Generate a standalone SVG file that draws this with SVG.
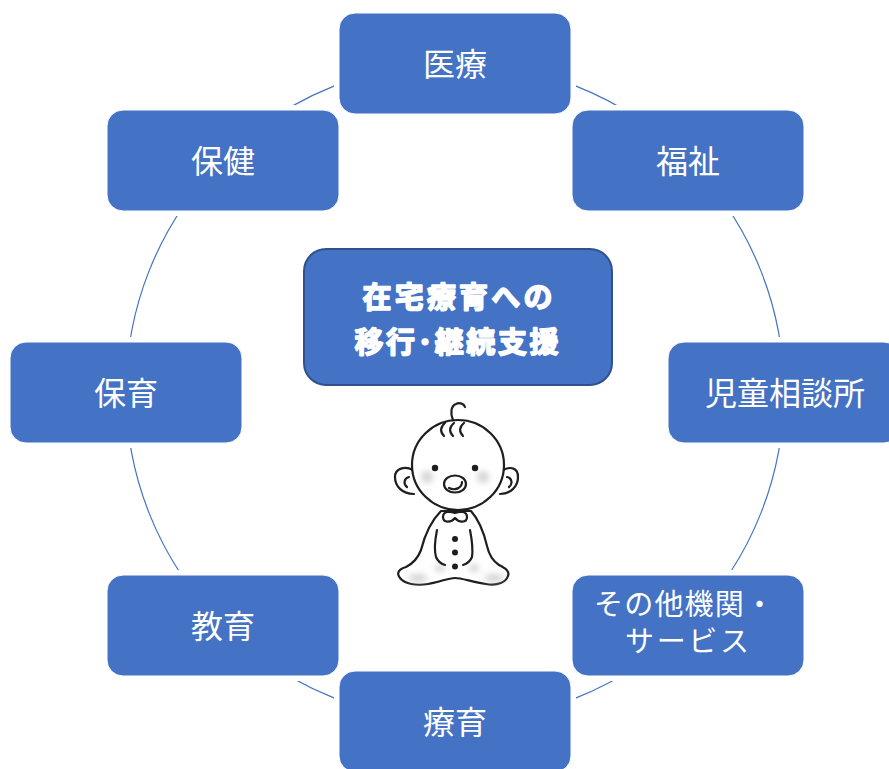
<svg xmlns="http://www.w3.org/2000/svg" width="889" height="769" viewBox="0 0 889 769">
  <style>
    .node rect { fill: #4472C4; stroke: #FFFFFF; stroke-width: 1; }
    .node text { fill: #FFFFFF; font-family: "Noto Sans CJK JP", "Noto Sans", sans-serif; font-size: 32px; text-anchor: middle; }
    .node text.small { font-size: 29px; }
    .hub rect { fill: #4472C4; stroke: #2F528F; stroke-width: 2; }
    .hub text { fill: #FFFFFF; stroke: #FFFFFF; stroke-width: 1.6; stroke-linejoin: round; font-family: "Noto Sans CJK JP", sans-serif; font-weight: 700; font-size: 29px; text-anchor: middle; }
    .ink { fill: none; stroke: #1E1E1E; stroke-width: 2.2; stroke-linecap: round; stroke-linejoin: round; }
    .fillw { fill: #FFFFFF; }
    .dot { fill: #1E1E1E; }
  </style>
  <defs>
    <!-- keeps a small gap between the ring and each box -->
    <mask id="ringGaps" maskUnits="userSpaceOnUse" x="0" y="0" width="889" height="769">
      <rect x="0" y="0" width="889" height="769" fill="#FFFFFF"/>
      <g fill="#000000" stroke="#000000" stroke-width="10">
        <rect x="339" y="13" width="232" height="101" rx="16"/>
        <rect x="572" y="110" width="232" height="101" rx="16"/>
        <rect x="668" y="342" width="232" height="101" rx="16"/>
        <rect x="572" y="575" width="232" height="101" rx="16"/>
        <rect x="339" y="671" width="232" height="101" rx="16"/>
        <rect x="107" y="575" width="232" height="101" rx="16"/>
        <rect x="10" y="342" width="232" height="101" rx="16"/>
        <rect x="107" y="110" width="232" height="101" rx="16"/>
      </g>
    </mask>
    <filter id="soft" x="-1" y="-1" width="3" height="3">
      <feGaussianBlur stdDeviation="3"/>
    </filter>
  </defs>

  <rect x="0" y="0" width="889" height="769" fill="#FFFFFF"/>

  <!-- cycle ring -->
  <g id="connectors">
    <circle cx="455" cy="392" r="329" fill="none" stroke="#4472C4" stroke-width="1.2" mask="url(#ringGaps)"/>
  </g>

  <g id="node-iryou" class="node">
    <rect x="339" y="13" width="232" height="101" rx="16"/>
    <text x="455" y="75.5">医療</text>
  </g>
  <g id="node-fukushi" class="node">
    <rect x="572" y="110" width="232" height="101" rx="16"/>
    <text x="688" y="172.5">福祉</text>
  </g>
  <g id="node-jidousoudanjo" class="node">
    <rect x="668" y="342" width="232" height="101" rx="16"/>
    <text x="785" y="404.5">児童相談所</text>
  </g>
  <g id="node-sonota" class="node">
    <rect x="572" y="575" width="232" height="101" rx="16"/>
    <text class="small" x="684" y="615" textLength="180" lengthAdjust="spacing">その他機関・</text>
    <text class="small" x="687" y="652" textLength="124" lengthAdjust="spacing">サービス</text>
  </g>
  <g id="node-ryouiku" class="node">
    <rect x="339" y="671" width="232" height="101" rx="16"/>
    <text x="455" y="733.5">療育</text>
  </g>
  <g id="node-kyouiku" class="node">
    <rect x="107" y="575" width="232" height="101" rx="16"/>
    <text x="223" y="637.5">教育</text>
  </g>
  <g id="node-hoiku" class="node">
    <rect x="10" y="342" width="232" height="101" rx="16"/>
    <text x="126" y="404.5">保育</text>
  </g>
  <g id="node-hoken" class="node">
    <rect x="107" y="110" width="232" height="101" rx="16"/>
    <text x="223" y="172.5">保健</text>
  </g>

  <g id="node-center" class="hub">
    <rect x="304" y="249" width="308" height="136" rx="22"/>
    <text x="457.5" y="308" textLength="190" lengthAdjust="spacing">在宅療育への</text>
    <text x="456.5" y="353" textLength="204" lengthAdjust="spacing">移行･継続支援</text>
  </g>

  <!-- seated baby illustration -->
  <g id="baby">
    <!-- body and legs -->
    <path class="ink fillw" d="M441,511 C432,520 425,534 421,550 C418,558 414,563 406,567 C399,569 396,573 400,578 C405,584 416,586 428,584 C440,582 448,578 455,578 C462,578 472,582 486,584 C498,586 506,582 508,576 C510,571 505,568 499,565 C493,561 489,555 487,546 C484,533 479,520 471,511 Z"/>
    <!-- leg shading -->
    <g filter="url(#soft)" fill="#BFBFBF" opacity="0.7">
      <ellipse cx="418" cy="578" rx="10" ry="4"/>
      <ellipse cx="494" cy="578" rx="10" ry="4"/>
      <ellipse cx="440" cy="568" rx="5" ry="4"/>
      <ellipse cx="474" cy="568" rx="5" ry="4"/>
    </g>
    <!-- arms -->
    <path class="ink" d="M437,530 C435,540 434,550 436,557 C438,562 442,564 445,565"/>
    <path class="ink" d="M470,530 C472,540 473,550 472,557 C470,562 466,564 463,565"/>
    <!-- buttons -->
    <circle class="dot" cx="455" cy="539" r="3"/>
    <circle class="dot" cx="455" cy="552.5" r="3"/>
    <circle class="dot" cx="455" cy="566.5" r="3"/>
    <!-- collar -->
    <path class="ink fillw" d="M455,513 C450,511 443,511 443,517 C443,523 451,523 455,518 C459,523 467,523 467,517 C467,511 460,511 455,513 Z"/>
    <!-- ears -->
    <path class="ink fillw" d="M413,470 C405,466 395,468 395,477 C395,486 402,494 414,494"/>
    <path class="ink" d="M409,477 C404,478 403,484 407,487"/>
    <path class="ink fillw" d="M503,470 C511,466 518,468 518,477 C518,486 511,494 500,494"/>
    <path class="ink" d="M507,477 C512,478 513,484 509,487"/>
    <!-- head -->
    <ellipse class="ink fillw" cx="458" cy="465" rx="46" ry="45"/>
    <!-- cheeks -->
    <g filter="url(#soft)" fill="#C8C8C8" opacity="0.8">
      <circle cx="427" cy="477" r="6"/>
      <circle cx="483" cy="477" r="6"/>
    </g>
    <!-- eyes -->
    <circle class="dot" cx="435" cy="468" r="3.2"/>
    <circle class="dot" cx="475" cy="468" r="3.2"/>
    <!-- mouth -->
    <ellipse class="ink fillw" cx="455" cy="484" rx="11" ry="8.5"/>
    <path class="ink" d="M449,488 C455,491 462,488 462,482" stroke-width="1.6"/>
    <!-- hair -->
    <path class="ink" d="M445,423 C440,427 440,432 444,436"/>
    <path class="ink" d="M454,423 C449,427 449,432 453,436"/>
    <path class="ink" d="M464,423 C459,427 459,432 463,436"/>
    <path class="ink" d="M453,420 C450,413 451,406 456,404 C460,402 464,404 465,407"/>
  </g>
</svg>
